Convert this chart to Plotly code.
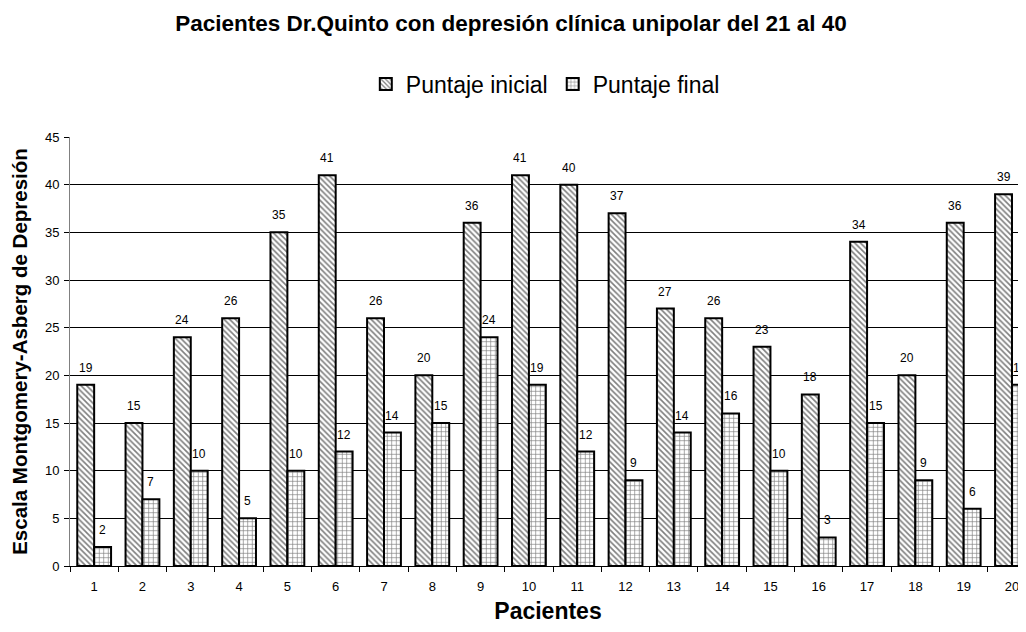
import plotly.graph_objects as go

pacientes = [str(i) for i in range(1, 21)]
puntaje_inicial = [19, 15, 24, 26, 35, 41, 26, 20, 36, 41, 40, 37, 27, 26, 23, 18, 34, 20, 36, 39]
puntaje_final = [2, 7, 10, 5, 10, 12, 14, 15, 24, 19, 12, 9, 14, 16, 10, 3, 15, 9, 6, 19]
y_ticks = [0, 5, 10, 15, 20, 25, 30, 35, 40, 45]

FONT = "Arial, Liberation Sans, sans-serif"
# the page body has an 8px margin, so the figure is sized to fill the window exactly
W, H = 1018, 616

fig = go.Figure()
fig.add_trace(go.Bar(
    name="Puntaje inicial", x=pacientes, y=puntaje_inicial,
    marker=dict(color="white", line=dict(color="black", width=2),
                pattern=dict(shape="\\", fgcolor="black", bgcolor="white", size=4, solidity=0.4)),
))
fig.add_trace(go.Bar(
    name="Puntaje final", x=pacientes, y=puntaje_final,
    marker=dict(color="white", line=dict(color="black", width=2),
                pattern=dict(shape="+", fgcolor="black", bgcolor="white", size=4.5, solidity=0.28)),
))

annotations = []
for i, (a, b) in enumerate(zip(puntaje_inicial, puntaje_final)):
    annotations.append(dict(x=i - 0.175, y=a, xref="x", yref="y", text=str(a), showarrow=False,
                            yanchor="bottom", yshift=8, font=dict(size=12, color="black", family=FONT)))
    annotations.append(dict(x=i + 0.175, y=b, xref="x", yref="y", text=str(b), showarrow=False,
                            yanchor="bottom", yshift=8, font=dict(size=12, color="black", family=FONT)))

fig.update_layout(
    width=W, height=H,
    margin=dict(l=62, r=0, t=129, b=58),
    paper_bgcolor="white", plot_bgcolor="white",
    font=dict(family=FONT, color="black"),
    title=dict(text="<b>Pacientes Dr.Quinto con depresión clínica unipolar del 21 al 40</b>",
               x=503 / W, xanchor="center", y=1 - 15.5 / H, yanchor="middle", font=dict(size=22.5)),
    barmode="group", bargap=0.3, bargroupgap=0,
    showlegend=True,
    legend=dict(orientation="h", x=315 / W, xanchor="left", y=1 - 76 / H, yanchor="middle",
                yref="container", font=dict(size=23), itemwidth=30, tracegroupgap=0),
    annotations=annotations,
    xaxis=dict(type="category", range=[-0.5, 19.29], showgrid=False, automargin=False,
               ticks="outside", tickson="boundaries", ticklen=5, tickcolor="black",
               showline=True, linecolor="black", linewidth=1,
               tickfont=dict(size=13), ticklabelstandoff=8,
               title=dict(text="<b>Pacientes</b>", font=dict(size=23), standoff=17)),
    yaxis=dict(range=[0, 45], tickvals=y_ticks, showgrid=True, gridcolor="black", gridwidth=1,
               automargin=False,
               ticks="outside", ticklen=5, tickcolor="black",
               showline=True, linecolor="#808080", linewidth=1,
               tickfont=dict(size=13), ticklabelstandoff=2,
               title=dict(text="<b>Escala Montgomery-Asberg de Depresión</b>", font=dict(size=20.5), standoff=12)),
)

fig.write_html("out.html")
